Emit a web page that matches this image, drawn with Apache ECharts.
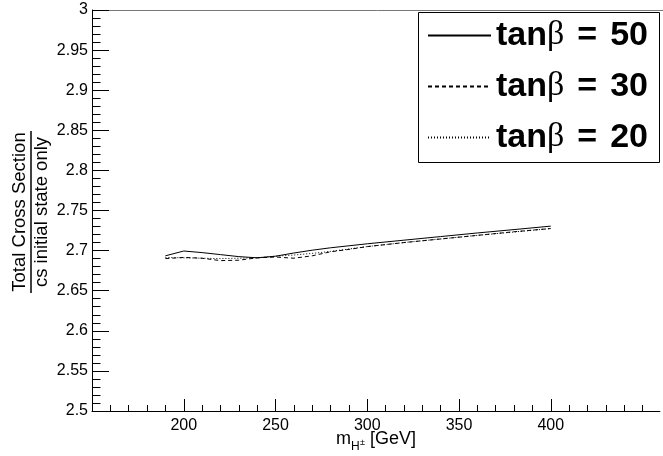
<!DOCTYPE html>
<html><head><meta charset="utf-8">
<script src="https://cdn.jsdelivr.net/npm/echarts@6/dist/echarts.min.js"></script>
<style>html,body{margin:0;padding:0;background:#fff}#c{width:663px;height:456px}</style>
</head><body><div id="c"></div>
<script>
// ---- data ----
const masses = [190, 200, 210, 220, 230, 240, 250, 260, 270, 280, 290, 300, 320, 340, 360, 380, 400];
const tb50   = [2.6935, 2.6995, 2.6975, 2.6950, 2.6925, 2.6910, 2.6930, 2.6970, 2.7005, 2.7035, 2.7060, 2.7085, 2.7130, 2.7175, 2.7220, 2.7262, 2.7305];
const tb30   = [2.6900, 2.6915, 2.6905, 2.6875, 2.6880, 2.6910, 2.6920, 2.6905, 2.6935, 2.6985, 2.7015, 2.7050, 2.7100, 2.7145, 2.7190, 2.7235, 2.7275];
const tb20   = [2.6915, 2.6910, 2.6905, 2.6900, 2.6905, 2.6910, 2.6930, 2.6945, 2.6965, 2.6990, 2.7020, 2.7050, 2.7100, 2.7145, 2.7190, 2.7232, 2.7275];
const seriesNames = ['tanβ = 50', 'tanβ = 30', 'tanβ = 20'];
const xMajor = [200, 400];   // first and last labelled tick

// ---- layout ----
const L = 92, T = 10, H = 401, K = 1.835;
const XMIN = 150, XMAX = 459.5;
const YMIN = 2.5, YMAX = 3.0;
const px = v => L + (v - XMIN) * K;

const chart = echarts.init(document.getElementById('c'), null, {renderer: 'canvas'});
const font = 'Liberation Sans, Arial, Helvetica, sans-serif';
const hiddenY = gi => ({gridIndex: gi, type: 'value', min: YMIN, max: YMAX, show: false});

chart.setOption({
  animation: false,
  backgroundColor: '#fff',
  color: ['#000', '#000', '#000'],
  grid: [
    {left: L, top: T, width: (XMAX - XMIN) * K, height: H},
    {left: px(xMajor[0]), top: T, width: (xMajor[1] - xMajor[0]) * K, height: H},
    {left: L, top: T, width: (450 - XMIN) * K, height: H}
  ],
  xAxis: [
    {gridIndex: 0, type: 'value', min: XMIN, max: XMAX,
     axisLine: {show: true, lineStyle: {color: '#000', width: 1}},
     axisTick: {show: false}, axisLabel: {show: false}, splitLine: {show: false}},
    {gridIndex: 1, type: 'value', min: xMajor[0], max: xMajor[1], interval: 50,
     axisLine: {show: false},
     axisTick: {show: true, inside: true, length: 12, lineStyle: {color: '#000'}},
     axisLabel: {show: true, margin: 7, fontSize: 16, color: '#000', fontFamily: font},
     splitLine: {show: false}},
    {gridIndex: 2, type: 'value', min: XMIN, max: 450, interval: 10,
     axisLine: {show: false},
     axisTick: {show: true, inside: true, length: 6, lineStyle: {color: '#000'}},
     axisLabel: {show: false}, splitLine: {show: false}}
  ],
  yAxis: [
    {gridIndex: 0, type: 'value', min: YMIN, max: YMAX, interval: 0.05,
     axisLine: {show: true, lineStyle: {color: '#000', width: 1}},
     axisTick: {show: true, inside: true, length: 17, lineStyle: {color: '#000'}},
     minorTick: {show: true, splitNumber: 5, length: 8.5, lineStyle: {color: '#000'}},
     axisLabel: {show: true, margin: 4, fontSize: 16, color: '#000', fontFamily: font,
                 formatter: v => String(+(+v).toFixed(2))},
     splitLine: {show: false}},
    hiddenY(1), hiddenY(2)
  ],
  legend: {
    orient: 'vertical', left: 427, top: 17, padding: 0,
    itemWidth: 63, itemHeight: 14, itemGap: 14,
    data: seriesNames,
    itemStyle: {color: 'rgba(0,0,0,0)', borderWidth: 0, opacity: 0},
    formatter: name => '{b|tan}{s|β}{e|=}{b|' + name.slice(name.indexOf('=') + 1).trim() + '}',
    textStyle: {
      lineHeight: 37,
      rich: {
        b: {fontSize: 34, fontWeight: 'bold', fontFamily: font, color: '#000', lineHeight: 37},
        s: {fontSize: 34, fontFamily: 'Liberation Serif, DejaVu Serif, serif', color: '#000', lineHeight: 37},
        e: {fontSize: 34, fontWeight: 'bold', fontFamily: font, color: '#000', lineHeight: 37, padding: [0, 13, 0, 13]}
      }
    }
  },
  series: [
    {name: seriesNames[0], type: 'line', xAxisIndex: 0, yAxisIndex: 0, symbol: 'none',
     itemStyle: {color: '#000'}, lineStyle: {color: '#000', width: 1, type: 'solid'},
     data: masses.map((m, i) => [m, tb50[i]])},
    {name: seriesNames[1], type: 'line', xAxisIndex: 0, yAxisIndex: 0, symbol: 'none',
     itemStyle: {color: '#000'}, lineStyle: {color: '#000', width: 1, type: [4, 3]},
     data: masses.map((m, i) => [m, tb30[i]])},
    {name: seriesNames[2], type: 'line', xAxisIndex: 0, yAxisIndex: 0, symbol: 'none',
     itemStyle: {color: '#000'}, lineStyle: {color: '#000', width: 1, type: [1, 2]},
     data: masses.map((m, i) => [m, tb20[i]])}
  ],
  graphic: [
    {type: 'line', z: 0, shape: {x1: L, y1: T + 0.5, x2: 663, y2: T + 0.5}, style: {stroke: '#777', lineWidth: 1}},
    {type: 'rect', z: 1, shape: {x: 418.5, y: 12.5, width: 241, height: 150}, style: {fill: '#fff', stroke: '#000', lineWidth: 1}},
    // x-axis title
    {type: 'text', left: 336, top: 430, style: {text: 'm', font: '18px ' + font, fill: '#000'}},
    {type: 'text', left: 351, top: 441, style: {text: 'H', font: '12px ' + font, fill: '#000'}},
    {type: 'text', left: 360, top: 438, style: {text: '±', font: '9px ' + font, fill: '#000'}},
    {type: 'text', left: 370, top: 430, style: {text: '[GeV]', font: '18px ' + font, fill: '#000'}},
    // y-axis title (fraction)
    {type: 'group', x: 31, y: 212, rotation: Math.PI / 2, children: [
      {type: 'text', x: 0, y: -11, style: {text: 'Total Cross Section', font: '18.5px ' + font, fill: '#000', align: 'center', verticalAlign: 'middle'}},
      {type: 'line', shape: {x1: -81, y1: 0, x2: 81, y2: 0}, style: {stroke: '#000', lineWidth: 1.5}},
      {type: 'text', x: 0, y: 11, style: {text: 'cs initial state only', font: '18.5px ' + font, fill: '#000', align: 'center', verticalAlign: 'middle'}}
    ]}
  ]
});
</script></body></html>
